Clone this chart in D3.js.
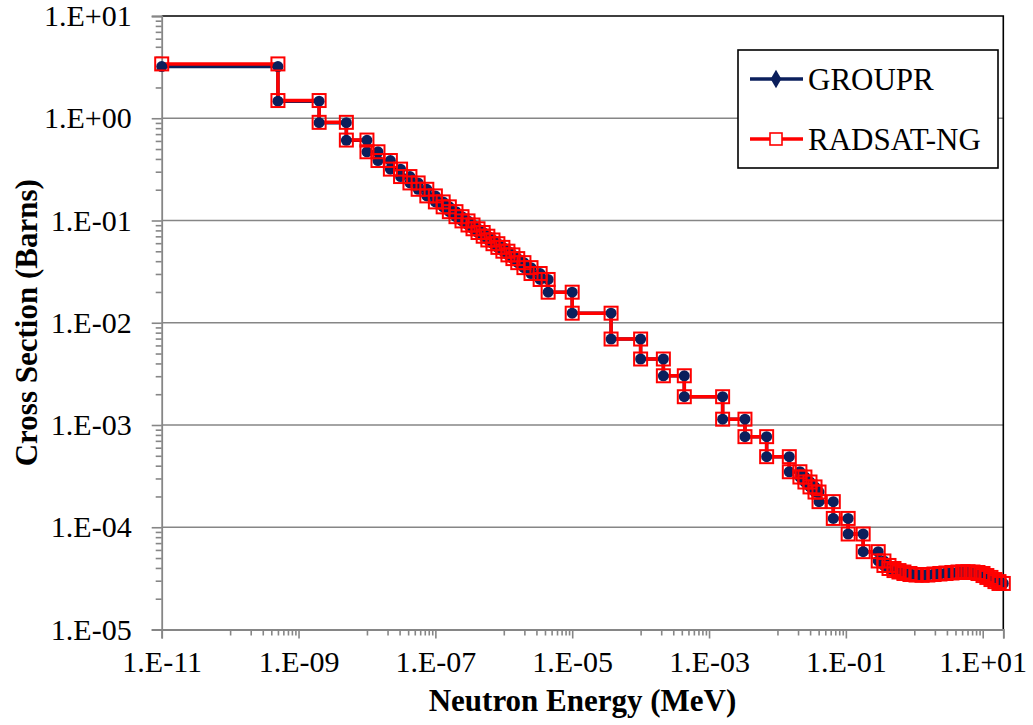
<!DOCTYPE html>
<html lang="en">
<head>
<script src="https://d3js.org/d3.v7.min.js"></script>
</head>
<body style="margin:0">
<script>
// group boundaries (MeV)
const energyBounds = [1e-11, 5e-10, 2e-9, 5e-9, 1e-8, 1.45e-8, 2.2e-8, 3.1e-8, 4.25e-8, 5.6e-8,
  7.5e-8, 1e-7, 1.3e-7, 1.6e-7, 2e-7, 2.45e-7, 3e-7, 3.55e-7, 4.2e-7, 5e-7,
  5.85e-7, 6.95e-7, 8.2e-7, 9.7e-7, 1.15e-6, 1.36e-6, 1.6e-6, 1.97e-6, 2.5e-6, 3.4e-6,
  4.45e-6, 1e-5, 3.7e-5, 1e-4, 2.15e-4, 4.35e-4, 1.58e-3, 3.35e-3, 6.95e-3, 0.0149,
  0.0213, 0.0252, 0.0299, 0.0354, 0.0405, 0.0655, 0.108, 0.179, 0.297, 0.36,
  0.427, 0.505, 0.597, 0.706, 0.865, 1.06, 1.3, 1.58, 1.94, 2.37,
  2.9, 3.56, 4.35, 5.14, 6.09, 7.21, 8.53, 10.1, 11.5, 13.2,
  15.1, 17.3, 20];

// group cross sections (barns)
const radsatValues = [3.4, 1.49, 0.912, 0.612,
  0.470, 0.386, 0.318, 0.269, 0.233, 0.202, 0.174, 0.152, 0.136, 0.122,
  0.109, 0.0991, 0.0904, 0.0830, 0.0763, 0.0702, 0.0645, 0.0593, 0.0546, 0.0501,
  0.0461, 0.0424, 0.0387, 0.0346, 0.0303, 0.0265, 0.0199,
  0.0124, 0.00693, 0.00442, 0.00303, 0.00189, 0.00114, 7.69e-4, 4.9e-4, 3.49e-4,
  3.1e-4, 2.77e-4, 2.48e-4, 2.21e-4, 1.78e-4, 1.22e-4, 8.59e-5, 5.77e-5,
  4.68e-5, 4.23e-5, 3.95e-5, 3.77e-5, 3.65e-5, 3.53e-5, 3.45e-5, 3.41e-5,
  3.41e-5, 3.45e-5, 3.49e-5, 3.53e-5, 3.57e-5, 3.61e-5, 3.65e-5, 3.65e-5,
  3.65e-5, 3.61e-5, 3.53e-5, 3.37e-5, 3.23e-5, 3.08e-5, 2.94e-5, 2.82e-5];

const grouprValues = [3.2, 1.47, 0.905, 0.608,
  0.470, 0.386, 0.318, 0.269, 0.233, 0.202, 0.174, 0.152, 0.136, 0.122,
  0.109, 0.0991, 0.0904, 0.0830, 0.0763, 0.0702, 0.0645, 0.0593, 0.0546, 0.0501,
  0.0461, 0.0424, 0.0387, 0.0346, 0.0303, 0.0265, 0.0199,
  0.0124, 0.00693, 0.00442, 0.00303, 0.00189, 0.00114, 7.69e-4, 4.9e-4, 3.49e-4,
  3.1e-4, 2.77e-4, 2.48e-4, 2.21e-4, 1.78e-4, 1.22e-4, 8.59e-5, 5.77e-5,
  4.68e-5, 4.23e-5, 3.95e-5, 3.77e-5, 3.65e-5, 3.53e-5, 3.45e-5, 3.41e-5,
  3.41e-5, 3.45e-5, 3.49e-5, 3.53e-5, 3.57e-5, 3.61e-5, 3.65e-5, 3.65e-5,
  3.65e-5, 3.61e-5, 3.53e-5, 3.37e-5, 3.23e-5, 3.08e-5, 2.94e-5, 2.82e-5];

const xMajor = [1e-11, 1e-9, 1e-7, 1e-5, 1e-3, 1e-1, 1e1];
const yMajor = [1e-5, 1e-4, 1e-3, 1e-2, 1e-1, 1e0, 1e1];
const seriesNames = ["GROUPR", "RADSAT-NG"];

const W = 1033, H = 725;
const pLeft = 161.7, pRight = 1003.3, pTop = 16, pBottom = 629.5;
const gray = "#868686", navy = "#0b1f5c", red = "#ff0000";
const FONT = "Liberation Serif";

const svg = d3.select("body").append("svg")
  .attr("width", W).attr("height", H);

const x = d3.scaleLog().domain([1e-11, 20]).range([pLeft, pRight]);
const y = d3.scaleLog().domain([1e-5, 10]).range([pBottom, pTop]);

const fmt = v => {
  const e = Math.round(Math.log10(v));
  return "1.E" + (e < 0 ? "-" : "+") + String(Math.abs(e)).padStart(2, "0");
};

// minor tick positions
let xMinor = [];
for (let e = -10; e <= 0; e += 2) for (let k = 1; k <= 9; k++) xMinor.push(k * Math.pow(10, e));
let yMinor = [];
for (let e = -5; e <= 0; e++) for (let k = 2; k <= 9; k++) yMinor.push(k * Math.pow(10, e));

// gridlines
svg.append("g").selectAll("line").data(yMajor.slice(1, -1)).join("line")
  .attr("x1", pLeft).attr("x2", pRight)
  .attr("y1", d => y(d)).attr("y2", d => y(d))
  .attr("stroke", gray).attr("stroke-width", 1.6);

// top / right border
svg.append("path")
  .attr("d", `M${pLeft},${pTop}H${pRight}V${pBottom}`)
  .attr("fill", "none").attr("stroke", "#000").attr("stroke-width", 1.6);

// y axis
svg.append("g").attr("transform", `translate(${pLeft},0)`)
  .call(d3.axisLeft(y).tickValues(yMajor).tickFormat(fmt).tickSize(10).tickPadding(20));
svg.append("g").attr("transform", `translate(${pLeft},0)`)
  .call(d3.axisLeft(y).tickValues(yMinor).tickFormat("").tickSize(6))
  .call(g => g.select(".domain").remove());

// x axis
svg.append("g").attr("transform", `translate(0,${pBottom})`)
  .call(d3.axisBottom(x).tickValues(xMajor.concat([20])).tickFormat(d => d === 20 ? "" : fmt(d)).tickSize(9).tickPadding(12));
svg.append("g").attr("transform", `translate(0,${pBottom})`)
  .call(d3.axisBottom(x).tickValues(xMinor).tickFormat("").tickSize(6))
  .call(g => g.select(".domain").remove());

svg.selectAll(".domain").attr("stroke", gray).attr("stroke-width", 1.8);
svg.selectAll(".tick line").attr("stroke", gray).attr("stroke-width", 1.6);
svg.selectAll(".tick text")
  .attr("font-family", FONT).attr("font-size", 30).attr("fill", "#000");

// step points
function stepPoints(vals) {
  const pts = [];
  vals.forEach((v, i) => {
    pts.push([energyBounds[i], v]);
    pts.push([energyBounds[i + 1], v]);
  });
  return pts;
}
const grouprPts = stepPoints(grouprValues);
const radsatPts = stepPoints(radsatValues);

const line = d3.line().x(d => x(d[0])).y(d => y(d[1]));

svg.append("path").datum(grouprPts).attr("d", line)
  .attr("fill", "none").attr("stroke", navy).attr("stroke-width", 3.5);
svg.append("path").datum(radsatPts).attr("d", line)
  .attr("fill", "none").attr("stroke", red).attr("stroke-width", 3.5);

svg.append("g").selectAll("path").data(grouprPts).join("path")
  .attr("transform", d => `translate(${x(d[0])},${y(d[1])})`)
  .attr("d", d3.symbol().type(d3.symbolCircle).size(95))
  .attr("fill", navy);
svg.append("g").selectAll("rect").data(radsatPts).join("rect")
  .attr("x", d => x(d[0]) - 6.5).attr("y", d => y(d[1]) - 6.5)
  .attr("width", 13).attr("height", 13)
  .attr("fill", "none").attr("stroke", red).attr("stroke-width", 2);

// legend
const lg = svg.append("g");
lg.append("rect").attr("x", 738).attr("y", 50).attr("width", 260).attr("height", 118)
  .attr("fill", "#fff").attr("stroke", "#000").attr("stroke-width", 1.6);
[79, 139].forEach((ly, i) => {
  lg.append("line").attr("x1", 750).attr("x2", 803).attr("y1", ly).attr("y2", ly)
    .attr("stroke", i === 0 ? navy : red).attr("stroke-width", 3.5);
  if (i === 0) {
    lg.append("path").attr("transform", `translate(776,${ly})`)
      .attr("d", d3.symbol().type(d3.symbolDiamond).size(100)).attr("fill", navy);
  } else {
    lg.append("rect").attr("x", 770).attr("y", ly - 6).attr("width", 12).attr("height", 12)
      .attr("fill", "#fff").attr("stroke", red).attr("stroke-width", 1.6);
  }
  lg.append("text").attr("x", 808).attr("y", ly + 11)
    .attr("font-family", FONT).attr("font-size", 31)
    .text(seriesNames[i]);
});

// axis titles
svg.append("text").attr("x", (pLeft + pRight) / 2).attr("y", 711)
  .attr("text-anchor", "middle").attr("font-family", FONT)
  .attr("font-size", 31).attr("font-weight", "bold")
  .text("Neutron Energy (MeV)");
svg.append("text").attr("transform", `translate(37,${(pTop + pBottom) / 2}) rotate(-90)`)
  .attr("text-anchor", "middle").attr("font-family", FONT)
  .attr("font-size", 31).attr("font-weight", "bold")
  .text("Cross Section (Barns)");
</script>
</body>
</html>
